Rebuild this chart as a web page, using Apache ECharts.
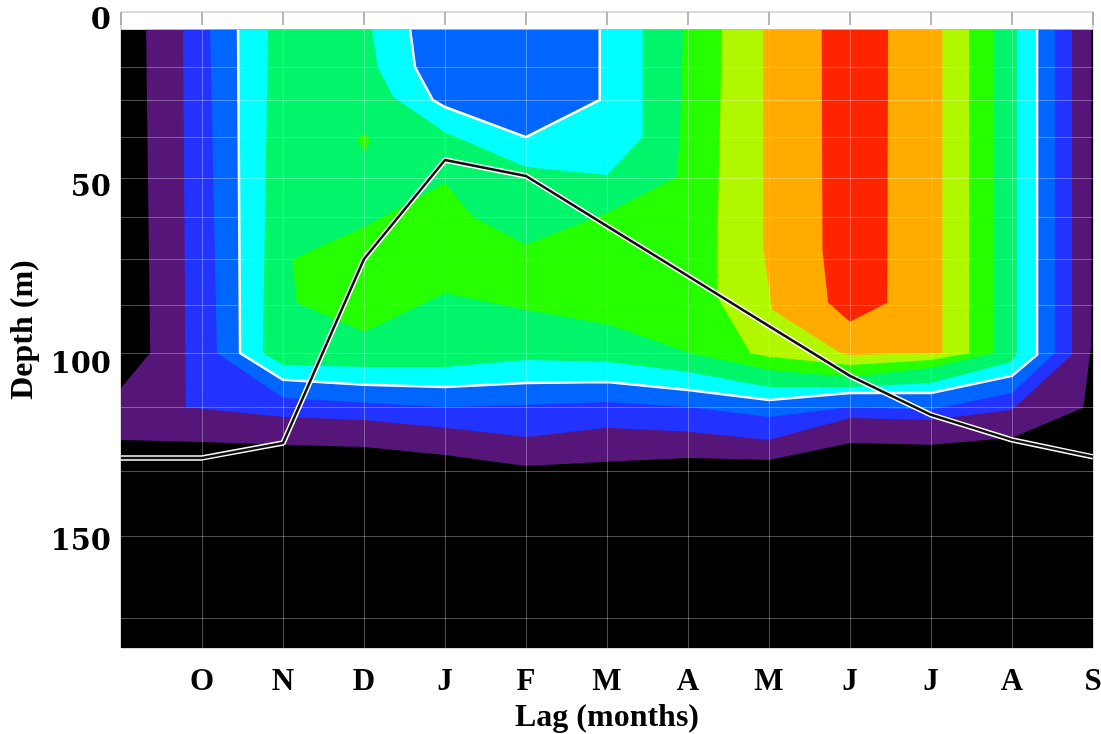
<!DOCTYPE html>
<html>
<head>
<meta charset="utf-8">
<script src="https://cdn.jsdelivr.net/npm/echarts@6/dist/echarts.min.js"></script>
<style>
html, body { margin: 0; padding: 0; background: #fff; }
#chart { width: 1101px; height: 734px; }
</style>
</head>
<body>
<div id="chart"></div>
<script>
var lagLabels = ['', 'O', 'N', 'D', 'J', 'F', 'M', 'A', 'M', 'J', 'J', 'A', 'S']
var depthTicks = [0, 50, 100, 150]
// model depth levels (horizontal grid)
var depthLevels = [5, 15.5, 25, 35.5, 47, 58, 70, 83, 96.5, 112, 130, 148.5, 171.5]

// mixed layer depth at each lag
var mldDepth = [126.2, 126.2, 122, 69.9, 41.9, 46.4, 60.6, 74.7, 88.9, 103, 114, 121.1, 125.9]

// contour band outlines as [lag, depth], lowest level first
var blackBand = [[0, 5], [12, 5], [12, 180], [0, 180]]
var purpleBand = [[0.31, 5], [0.36, 96.5], [0, 106.4], [0, 121.1], [1, 121.7], [2, 122.5], [3, 123.1], [4, 125.4], [5, 128.5], [6, 127.3], [7, 126.2], [8, 126.8], [9, 122], [10, 122.5], [11, 120.5], [11.88, 112], [11.98, 94], [11.98, 5]]
var blueBand = [[0.765, 5], [0.8, 111.8], [2, 114.6], [3, 115.5], [4, 117.7], [5, 120.3], [6, 117.7], [7, 118.8], [8, 121.1], [9, 114.9], [10, 115.5], [11, 112.6], [11.74, 97], [11.74, 5]]
var midBlueBand = [[1.1, 5], [1.185, 96.5], [2, 109.2], [3, 110.6], [4, 111.8], [5, 111.2], [6, 110.4], [7, 111.8], [8, 114.6], [9, 111.8], [10, 112.6], [11, 107.8], [11.53, 96.5], [11.53, 5]]
var cyanBand = [[1.445, 5], [1.47, 96.5], [2, 104.1], [3, 105.5], [4, 106.1], [5, 105], [6, 104.7], [7, 107], [8, 109.8], [9, 107.8], [10, 107.8], [11, 103], [11.31, 97], [11.31, 5]]
var springBand = [[1.815, 5], [1.75, 96.5], [2, 99.9], [3, 100.5], [4, 100.5], [5, 98.5], [6, 99], [7, 101.9], [8, 106.1], [9, 106.1], [10, 105], [11, 99], [11.06, 96.5], [11.06, 5]]
var greenBand = [[6.94, 5], [6.9, 36.2], [6.86, 46.7], [6, 56.9], [5, 65.9], [4.35, 58], [4, 48.4], [3.01, 60.8], [2.37, 67.3], [2.12, 70.2], [2.17, 82.3], [3.01, 90.5], [4, 79.5], [5, 84.3], [6.04, 88.6], [7.02, 96.5], [8, 101.3], [9, 103.3], [10, 100.7], [10.77, 96.5], [10.77, 5]]
var greenSpot = [[2.91, 36.2], [3.01, 34.2], [3.08, 36.2], [3.01, 39.6]]
var limeBand = [[7.42, 5], [7.36, 67.3], [7.36, 80.6], [7.77, 96.5], [8, 97.6], [9, 99.9], [10, 98.5], [10.47, 96.5], [10.47, 5]]
var orangeBand = [[7.93, 5], [7.93, 67.3], [8.04, 84.3], [8.88, 96.5], [9, 97.1], [10, 96.5], [10.14, 96.5], [10.14, 5]]
var redBand = [[8.65, 5], [8.66, 67.3], [8.73, 82.3], [9, 87.7], [9.46, 82.3], [9.47, 5]]
// low patch near the surface
var patchCyan = [[3.1, 5], [3.17, 15.6], [3.36, 24], [4, 34], [5, 43.9], [6, 46.1], [6.44, 35.4], [6.44, 5]]
var patchBlue = [[3.57, 5], [3.63, 15.6], [3.85, 24.9], [4, 26.9], [5, 35.4], [5.91, 24.9], [5.91, 5]]

var bands = [
  { pts: blackBand, color: '#000000' },
  { pts: purpleBand, color: '#561578' },
  { pts: blueBand, color: '#2233ff' },
  { pts: midBlueBand, color: '#0066ff' },
  { pts: cyanBand, color: '#00ffff', edge: true },
  { pts: springBand, color: '#00f56b' },
  { pts: greenBand, color: '#26ff00' },
  { pts: greenSpot, color: '#26ff00' },
  { pts: limeBand, color: '#b0f700' },
  { pts: orangeBand, color: '#ffab00' },
  { pts: redBand, color: '#ff2400' },
  { pts: patchCyan, color: '#00ffff' },
  { pts: patchBlue, color: '#0066ff', edge: true }
]

var font = "'Liberation Serif', 'Times New Roman', serif"
var numFont = "'DejaVu Serif', serif"
var chart = echarts.init(document.getElementById('chart'))

function renderBand(params, api) {
  var b = bands[params.dataIndex]
  var pts = b.pts.map(function (p) { return api.coord(p) })
  var kids = [{ type: 'polygon', shape: { points: pts }, style: { fill: b.color } }]
  if (b.edge) {
    kids.push({ type: 'polyline', shape: { points: pts }, style: { stroke: '#ffffff', lineWidth: 2.5, fill: null } })
  }
  return { type: 'group', children: kids }
}

var gridLines = []
for (var i = 1; i < 12; i++) {
  gridLines.push([{ coord: [i, 5] }, { coord: [i, 180] }])
}
depthLevels.forEach(function (d) {
  gridLines.push([{ coord: [0, d] }, { coord: [12, d] }])
})

var mldData = mldDepth.map(function (d, i) { return [i, d] })

chart.setOption({
  animation: false,
  backgroundColor: '#ffffff',
  grid: {
    left: 121, right: 8, top: 12, bottom: 86, outerBoundsMode: 'none',
    show: true, borderColor: '#b5b5b5', borderWidth: 1, backgroundColor: '#ffffff'
  },
  xAxis: [{
    type: 'value', min: 0, max: 12, interval: 1, position: 'bottom',
    axisLine: { show: false }, axisTick: { show: false }, splitLine: { show: false },
    axisLabel: {
      margin: 18, color: '#000', fontFamily: font, fontWeight: 'bold', fontSize: 31,
      formatter: function (v) { return lagLabels[v] || '' }
    },
    name: 'Lag (months)', nameLocation: 'middle', nameGap: 53,
    nameTextStyle: { color: '#000', fontFamily: font, fontWeight: 'bold', fontSize: 32 }
  }, {
    type: 'value', min: 0, max: 12, interval: 1, position: 'top',
    axisLine: { show: false }, axisLabel: { show: false }, splitLine: { show: false },
    axisTick: { show: true, inside: true, length: 13, lineStyle: { color: '#a0a0a0', width: 1.5 } }
  }],
  yAxis: {
    type: 'value', inverse: true, min: 0, max: 180, interval: 50,
    axisLine: { show: false }, axisTick: { show: false }, splitLine: { show: false },
    axisLabel: {
      margin: 10, color: '#000', fontFamily: numFont, fontWeight: 'bold', fontSize: 29,
      formatter: function (v) {
        if (v === 0) return '{top|0}'
        return depthTicks.indexOf(v) >= 0 ? String(v) : ''
      },
      rich: { top: { padding: [18, 0, 0, 0], color: '#000', fontFamily: numFont, fontWeight: 'bold', fontSize: 29 } }
    },
    name: 'Depth (m)', nameLocation: 'middle', nameGap: 78, nameRotate: 90,
    nameTextStyle: { color: '#000', fontFamily: font, fontWeight: 'bold', fontSize: 32 }
  },
  series: [{
    type: 'custom', z: 2, clip: true,
    data: bands.map(function (b, i) { return [i, 0] }),
    renderItem: renderBand
  }, {
    type: 'line', z: 3, data: [], silent: true,
    markLine: {
      silent: true, symbol: ['none', 'none'], label: { show: false },
      lineStyle: { color: 'rgba(255,255,255,0.3)', width: 1, type: 'solid' },
      emphasis: { disabled: true },
      data: gridLines
    }
  }, {
    type: 'line', z: 4, data: mldData, symbol: 'none', silent: true,
    lineStyle: { color: '#ffffff', width: 5.5 }
  }, {
    type: 'line', z: 5, data: mldData, symbol: 'none', silent: true,
    lineStyle: { color: '#111111', width: 2.5 }
  }]
})
</script>
</body>
</html>
